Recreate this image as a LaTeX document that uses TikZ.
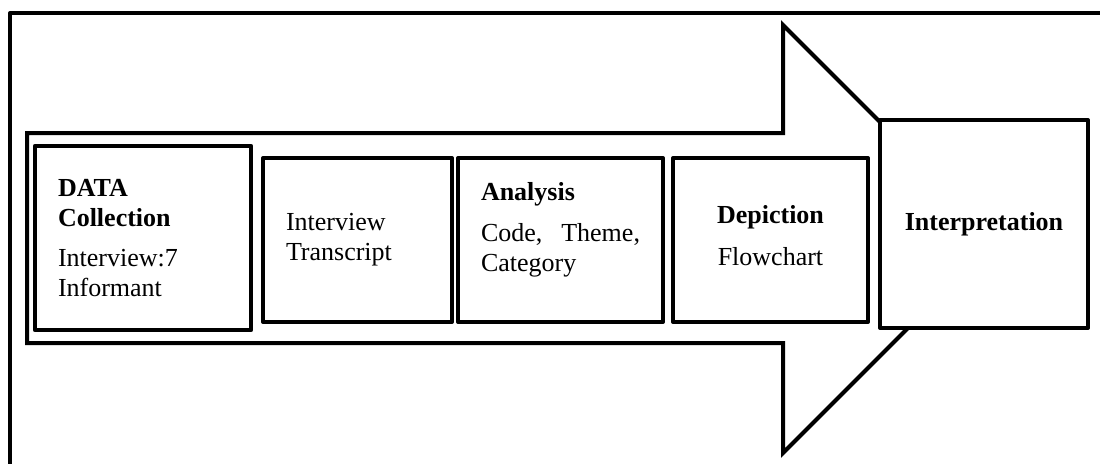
\documentclass[tikz,border=0pt]{standalone}
\usepackage{fontspec}
\setmainfont{Liberation Serif}
\tikzset{
	stagebox/.style={draw,line width=2pt,fill=white,inner sep=11.5pt,minimum height=82pt,font=\fontsize{13}{15}\selectfont},
	flowarrow/.style={line width=2pt,line join=miter,miter limit=10}
}
\begin{document}
\begin{tikzpicture}[line cap=round,line join=round,x=0.5pt,y=-0.5pt]
		\useasboundingbox (0,0) rectangle (1100,463);
		\clip (0,0) rectangle (1100,463);
		% outer frame
		\draw [line width=2pt] (10,13) rectangle (1130,490);
		% big arrow
		\draw [flowarrow] (27,133) -- (783,133) -- (783,25) -- (997,239) -- (783,453) -- (783,343) -- (27,343) -- cycle;
		% stages
		\node [stagebox,line width=2.4pt,text width=85pt,minimum height=92pt,align=left] (collect) at (143,238) {\textbf{DATA}\\\textbf{Collection}\\[5pt]Interview:7\\Informant};
		\node [stagebox,text width=71.5pt,align=left] (transcript) at (357.5,240) {Interview\\Transcript};
		\node [stagebox,text width=79.5pt,align=left] (analysis) at (560.5,240) {\textbf{Analysis}\\[5.5pt]Code,\hfill Theme,\\Category\\[-2pt]\mbox{}};
		\node [stagebox,text width=74.5pt,align=center] (depict) at (770.5,240) {\textbf{Depiction}\\[6pt]Flowchart\\[-10pt]\mbox{}};
		\node [stagebox,text width=81pt,minimum height=104pt,align=center] (interpret) at (984,224) {\textbf{Interpretation}};
	\end{tikzpicture}
\end{document}
